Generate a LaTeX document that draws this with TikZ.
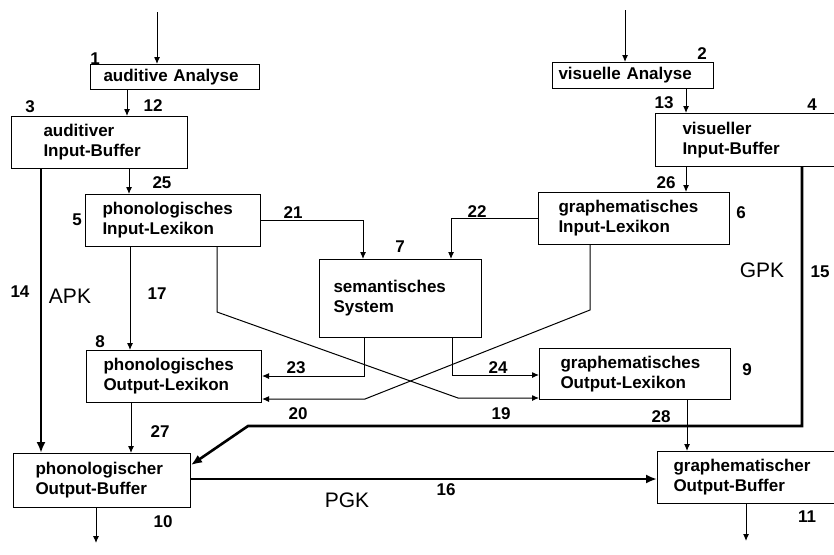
\documentclass[tikz,border=0pt]{standalone}
\usepackage{fontspec}
\setmainfont{Liberation Sans}
\usetikzlibrary{arrows.meta,positioning,calc}

\begin{document}
\begin{tikzpicture}[
    x=1pt, y=-1pt,
    font=\bfseries\fontsize{17}{20}\selectfont,
    box/.style={draw, line width=1pt, anchor=north west, align=left, inner xsep=0pt, inner ysep=0pt},
    conn/.style={line width=1pt, -{Latex[length=7pt,width=6pt]}},
    route/.style={line width=2.6pt, -{Latex[length=11pt,width=9pt]}},
    num/.style={inner sep=0pt},
    rule/.style={font=\fontsize{21}{24}\selectfont, inner sep=0pt}
]
    \useasboundingbox (0,0) rectangle (834,554);

    % Analyse und Input-Buffer
    \node[box, minimum width=169pt, minimum height=25pt, text width=143pt] (audAn) at (90,64) {auditive Analyse};
    \node[box, minimum width=161pt, minimum height=26pt, text width=149pt] (visAn) at (552,62) {visuelle Analyse};
    \node[box, minimum width=176pt, minimum height=52pt, text width=112pt] (audIB) at (11,116) {auditiver\\Input-Buffer};
    \node[box, minimum width=230pt, minimum height=53pt, text width=176pt] (visIB) at (655,113) {visueller\\Input-Buffer};

    % Lexika und semantisches System
    \node[box, minimum width=175pt, minimum height=52pt, text width=141pt] (phonIL) at (85,194) {phonologisches\\Input-Lexikon};
    \node[box, minimum width=191pt, minimum height=52pt, text width=151pt] (graphIL) at (538,192) {graphematisches\\Input-Lexikon};
    \node[box, minimum width=162pt, minimum height=78pt, text width=134pt] (sem) at (319,259) {semantisches\\System};
    \node[box, minimum width=175pt, minimum height=52pt, text width=141pt] (phonOL) at (86,350) {phonologisches\\Output-Lexikon};
    \node[box, minimum width=191pt, minimum height=51pt, text width=149pt] (graphOL) at (539,348) {graphematisches\\Output-Lexikon};

    % Output-Buffer
    \node[box, minimum width=177pt, minimum height=54pt, text width=133pt] (phonOB) at (13,453) {phonologischer\\Output-Buffer};
    \node[box, minimum width=230pt, minimum height=52pt, text width=198pt] (graphOB) at (657,451) {graphematischer\\Output-Buffer};

    \coordinate (inA) at (157,12);
    \coordinate (inV) at (625,10);
    \coordinate (outP) at (96,543);
    \coordinate (outG) at (746,541);

    % Verbindungen
    \draw[conn] (inA) -- (audAn.north -| inA);
    \draw[conn] (inV) -- (visAn.north -| inV);
    \draw[conn] (audAn.south -| 127,0) -- (audIB.north -| 127,0);
    \draw[conn] (visAn.south -| 686,0) -- (visIB.north -| 686,0);
    \draw[conn] (audIB.south -| 129,0) -- (phonIL.north -| 129,0);
    \draw[conn] (visIB.south -| 686,0) -- (graphIL.north -| 686,0);
    \draw[conn] (phonIL.east |- 0,220) -| (sem.north -| 363,0);
    \draw[conn] (graphIL.west |- 0,218) -| (sem.north -| 451,0);
    \draw[conn] (sem.south -| 364,0) |- (phonOL.east |- 0,376);
    \draw[conn] (sem.south -| 452,0) |- (graphOL.west |- 0,375);
    \draw[conn] (phonIL.south -| 217,0) -- (217,312) -- (458,398) -- (graphOL.west |- 0,398);
    \draw[conn] (graphIL.south -| 590,0) -- (590,310) -- (365,399) -- (phonOL.east |- 0,399);
    \draw[conn] (phonIL.south -| 130,0) -- (phonOL.north -| 130,0);
    \draw[conn] (phonOL.south -| 131,0) -- (phonOB.north -| 131,0);
    \draw[conn] (graphOL.south -| 687,0) -- (graphOB.north -| 687,0);
    \draw[conn] (phonOB.south -| outP) -- (outP);
    \draw[conn] (graphOB.south -| outG) -- (outG);

    % Routen ohne Lexikon
    \draw[route] (audIB.south -| 41,0) -- (phonOB.north -| 41,0);
    \draw[route] (visIB.south -| 802,0) -- (802,426) -- (248,426) -- (phonOB.east |- 0,465);
    \draw[route] (phonOB.east |- 0,479) -- (graphOB.west |- 0,479);

    % Nummern
    \foreach \t/\x/\y in {1/95/59, 2/702/54, 3/30/107, 4/812/105, 5/77/220, 6/741/213,
        7/400/247, 8/100/342, 9/747/370, 10/163/522, 11/807/517, 12/153/106, 13/664/103,
        14/20/292, 15/820/272, 16/446/490, 17/157/294, 19/501/414, 20/298/414, 21/293/213,
        22/477/212, 23/296/368, 24/498/368, 25/162/183, 26/666/183, 27/160/432, 28/661/417}
        \node[num] (l\t) at (\x,\y) {\t};

    \node[rule] (apk) at (70,296) {APK};
    \node[rule] (gpk) at (762,270) {GPK};
    \node[rule] (pgk) at (347,500) {PGK};
\end{tikzpicture}
\end{document}
